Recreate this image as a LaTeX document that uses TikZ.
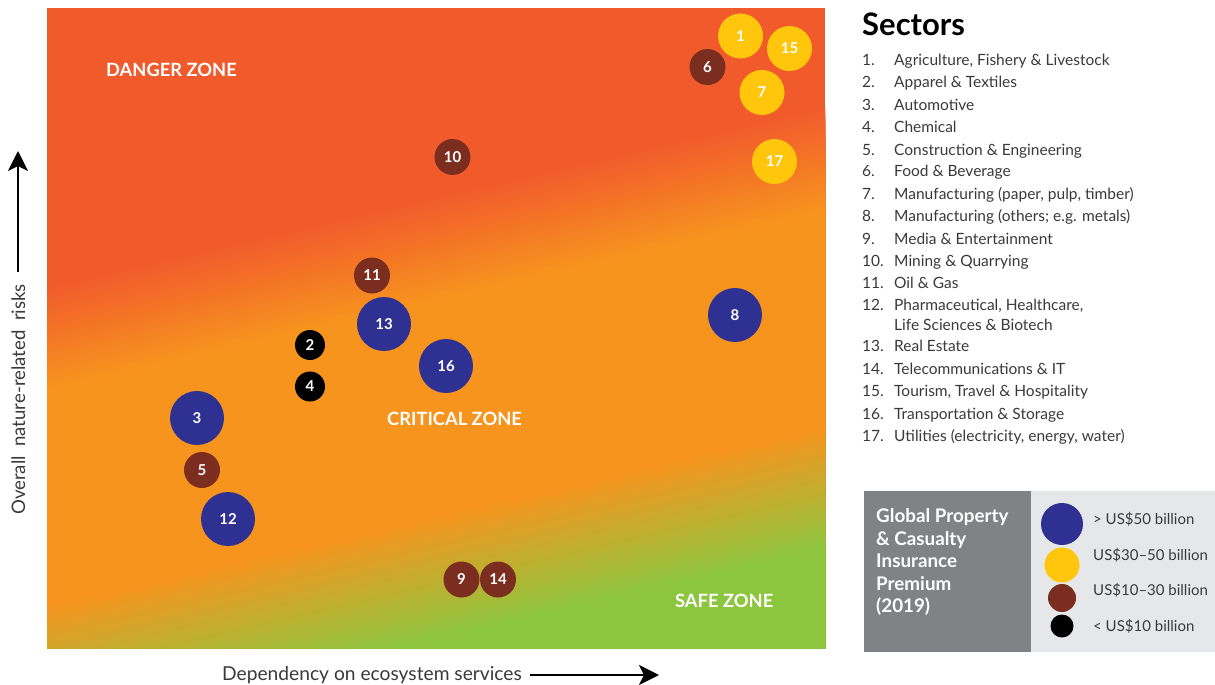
\documentclass[tikz,border=0pt]{standalone}
\usepackage{fontspec}
\setmainfont{Lato}
\usetikzlibrary{arrows.meta}
\definecolor{zred}{HTML}{F15B2C}
\definecolor{zorg}{HTML}{F7941E}
\definecolor{zgrn}{HTML}{8CC63F}
\definecolor{cblue}{HTML}{2E3192}
\definecolor{cyel}{HTML}{FFC60B}
\definecolor{cbrn}{HTML}{7B2E1F}
\definecolor{legdark}{HTML}{808285}
\definecolor{leglight}{HTML}{E6E7E8}
\definecolor{txt}{HTML}{3A3A3A}
\begin{document}
\begin{tikzpicture}[x=1pt,y=-1pt,
  bub/.style={circle, inner sep=0pt, text=white, font=\fontsize{15}{15}\selectfont\bfseries},
  bblue/.style={bub, fill=cblue, minimum size=54pt},
  byel/.style={bub, fill=cyel, minimum size=45pt},
  bbrn/.style={bub, fill=cbrn, minimum size=36pt},
  bblk/.style={bub, fill=black, minimum size=30pt},
  zone/.style={anchor=base west, inner sep=0pt, text=white, font=\fontsize{18.3}{18.3}\selectfont\bfseries},
  num/.style={anchor=base west, inner sep=0pt, text=txt, font=\fontsize{15.5}{15.5}\selectfont},
  item/.style={anchor=base west, inner sep=0pt, text=txt, font=\fontsize{15.5}{15.5}\selectfont},
  leglab/.style={anchor=base west, inner sep=0pt, text=txt, font=\fontsize{15}{15}\selectfont},
  legdot/.style={circle, inner sep=0pt},
  axlab/.style={inner sep=0pt, text=txt, font=\fontsize{19.2}{19.2}\selectfont},
  axarrow/.style={line width=1.8pt, -{Stealth[length=20pt,width=20pt,inset=5pt]}}
]
\useasboundingbox (0,0) rectangle (1215,685);
\fill[white] (0,0) rectangle (1215,685);

% gradient background
\begin{scope}
\clip (47,8) rectangle (825,648);
\fill[zred] (47,8) rectangle (825,648);
\foreach \u in {290,292,...,390}{
  \pgfmathsetmacro\p{\u-290}
  \fill[zorg!\p!zred] (0,{\u/0.9744}) -- (900,{(\u-202.5)/0.9744}) -- (900,800) -- (0,800) -- cycle;
}
\foreach \u in {600,603,...,720}{
  \pgfmathsetmacro\p{(\u-600)/1.2}
  \fill[zgrn!\p!zorg] (0,{\u/0.9744}) -- (900,{(\u-202.5)/0.9744}) -- (900,800) -- (0,800) -- cycle;
}
\end{scope}

% zone labels
\node[zone] (dz) at (106,77) {DANGER ZONE};
\node[zone] (cz) at (387,425) {CRITICAL ZONE};
\node[zone] (sz) at (675,607) {SAFE ZONE};

% bubbles
\node[byel] (s1) at (740.5,36) {1};
\node[byel] (s15) at (789.5,48.5) {15};
\node[bbrn] (s6) at (707.5,67) {6};
\node[byel] (s7) at (762,92.5) {7};
\node[byel] (s17) at (774.5,161.5) {17};
\node[bbrn] (s10) at (452.5,157) {10};
\node[bbrn] (s11) at (372,275.5) {11};
\node[bblue] (s13) at (384,324) {13};
\node[bblue] (s8) at (735,315) {8};
\node[bblk] (s2) at (310,345) {2};
\node[bblk] (s4) at (310,386.5) {4};
\node[bblue] (s16) at (446,366) {16};
\node[bblue] (s3) at (197,418) {3};
\node[bbrn] (s5) at (202,470) {5};
\node[bblue] (s12) at (228,519) {12};
\node[bbrn] (s9) at (461.5,579.5) {9};
\node[bbrn] (s14) at (498,579.5) {14};

% axes
\node[inner sep=0pt, text=txt, font=\fontsize{18.6}{18.6}\selectfont, anchor=base west, rotate=90] (ylab) at (25,515) {Overall\ \ nature-related\ \ risks};
\coordinate (ya) at (18,272);
\coordinate (yb) at (18,151);
\draw[axarrow] (ya) -- (yb);
\node[axlab, anchor=base west] (xlab) at (222,680) {Dependency on ecosystem services};
\coordinate (xa) at (530,675);
\coordinate (xb) at (659,675);
\draw[axarrow] (xa) -- (xb);

% sectors list
\node[anchor=base west, inner sep=0pt, font=\fontsize{31}{31}\selectfont\bfseries] (title) at (862,36) {Sectors};
\foreach \n/\t/\yy in {
  1/{Agriculture, Fishery \& Livestock}/65.3,
  2/{Apparel \& Textiles}/87.5,
  3/{Automotive}/110,
  4/{Chemical}/132.3,
  5/{Construction \& Engineering}/155,
  6/{Food \& Beverage}/176.7,
  7/{Manufacturing (paper, pulp, timber)}/199,
  8/{Manufacturing (others; e.g. metals)}/221,
  9/{Media \& Entertainment}/244,
  10/{Mining \& Quarrying}/266.3,
  11/{Oil \& Gas}/288.3,
  12/{Pharmaceutical, Healthcare,}/310.7,
  13/{Real Estate}/351.7,
  14/{Telecommunications \& IT}/374,
  15/{Tourism, Travel \& Hospitality}/396.7,
  16/{Transportation \& Storage}/419,
  17/{Utilities (electricity, energy, water)}/441}{
  \node[num] (n\n) at (862,\yy) {\n.};
  \node[item] (t\n) at (894,\yy) {\t};
}
\node[item] (t12b) at (894,330) {Life Sciences \& Biotech};

% legend
\fill[legdark] (864,491) rectangle (1031,652);
\fill[leglight] (1031,491) rectangle (1215,652);
\foreach \l/\t/\yy in {1/{Global Property}/522.7, 2/{\& Casualty}/545.2, 3/{Insurance}/567.7, 4/{Premium}/590.2, 5/{(2019)}/612.7}{
  \node[anchor=base west, inner sep=0pt, text=white, font=\fontsize{18.8}{18.8}\selectfont\bfseries] (g\l) at (876,\yy) {\t};
}
\node[legdot, fill=cblue, minimum size=42pt] (lb) at (1062,524) {};
\node[legdot, fill=cyel, minimum size=35pt] (ly) at (1062,565) {};
\node[legdot, fill=cbrn, minimum size=28pt] (lr) at (1062,598) {};
\node[legdot, fill=black, minimum size=23pt] (lk) at (1062,626) {};
\node[leglab] (lbt) at (1093,524.3) {> US\$50 billion};
\node[leglab] (lyt) at (1093,560) {US\$30–50 billion};
\node[leglab] (lrt) at (1093,595.7) {US\$10–30 billion};
\node[leglab] (lkt) at (1093,631.7) {< US\$10 billion};
\end{tikzpicture}
\end{document}
